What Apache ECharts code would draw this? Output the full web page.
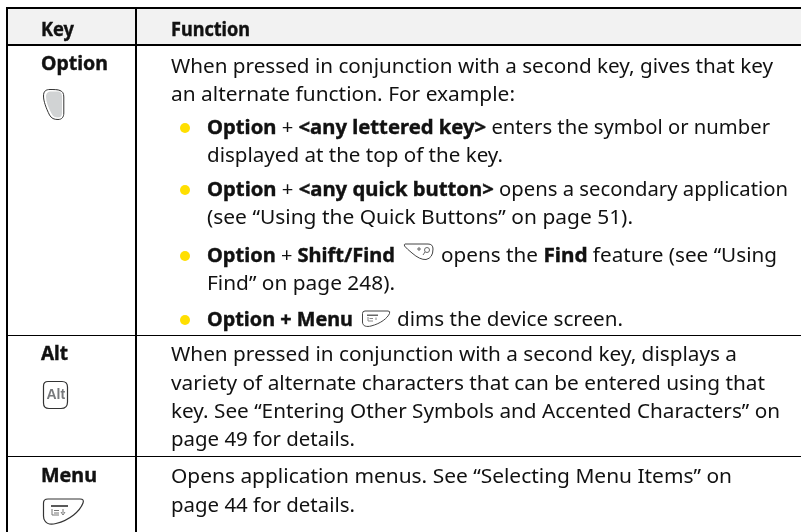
<!DOCTYPE html>
<html>
<head>
<meta charset="utf-8">
<style>html,body{margin:0;padding:0;background:#fff}#c{width:801px;height:532px}</style>
<script src="https://cdn.jsdelivr.net/npm/echarts@6/dist/echarts.min.js"></script>
</head>
<body>
<div id="c"></div>
<script>
// ---- table content (text only) ----
var headerLabels = ['Key', 'Function'];
var keyNames = ['Option', 'Alt', 'Menu'];
// each line: list of [text, isBold]
var optionIntro = [
  [['When pressed in conjunction with a second key, gives that key', 0]],
  [['an alternate function. For example:', 0]]
];
var optionBullets = [
  [['Option', 1], [' + ', 0], ['<any lettered key>', 1], [' enters the symbol or number', 0]],
  [['displayed at the top of the key.', 0]],
  [['Option', 1], [' + ', 0], ['<any quick button>', 1], [' opens a secondary application', 0]],
  [['(see “Using the Quick Buttons” on page 51).', 0]],
  [['Option', 1], [' + ', 0], ['Shift/Find', 1]],
  [['opens the ', 0], ['Find', 1], [' feature (see “Using', 0]],
  [['Find” on page 248).', 0]],
  [['Option + Menu', 1]],
  [['dims the device screen.', 0]]
];
var altLines = [
  [['When pressed in conjunction with a second key, displays a', 0]],
  [['variety of alternate characters that can be entered using that', 0]],
  [['key. See “Entering Other Symbols and Accented Characters” on', 0]],
  [['page 49 for details.', 0]]
];
var menuLines = [
  [['Opens application menus. See “Selecting Menu Items” on', 0]],
  [['page 44 for details.', 0]]
];

// ---- layout, kept apart from the content ----
var FONT = '"Noto Sans"';
var SIZE = 20;
var MID = 0.19;
var headerLayout = [[41, 74, 34], [171, 250, 34]];
var keyLayout = [[41, 108, 68], [41, 68, 358], [41, 97, 480]];
var introLayout = [[171, 773, 71], [171, 515, 99]];
var bulletLayout = [[207, 770, 132], [207, 503, 160], [207, 788, 194], [207, 633, 222],
  [207, 395, 260], [441, 777, 260], [207, 395, 288], [207, 353, 324], [397, 623, 324]];
var altLayout = [[171, 737, 359], [171, 765, 388], [171, 780, 416], [171, 355, 444]];
var menuLayout = [[171, 732, 481], [171, 355, 510]];
var bulletDots = [[185, 128], [185, 190], [185, 256], [185, 320]];

var ctx = document.createElement('canvas').getContext('2d');
function fontOf(bold, size) { return (bold ? 'bold ' : '') + size + 'px ' + FONT; }
function widthOf(t, bold, size) { ctx.font = fontOf(bold, size); return ctx.measureText(t).width; }

var els = [];
function rect(x, y, w, h, fill) {
  els.push({type: 'rect', shape: {x: x, y: y, width: w, height: h}, style: {fill: fill}, silent: true});
}
function addLine(segs, lay, size, color) {
  var total = 0;
  segs.forEach(function (s) { total += widthOf(s[0], s[1], size); });
  var sc = (lay[1] - lay[0]) / total, x = lay[0], c = color || '#111';
  segs.forEach(function (s) {
    var style = {text: s[0], font: fontOf(s[1], size), fill: c, align: 'left', verticalAlign: 'middle'};
    if (s[1]) { style.stroke = c; style.lineWidth = 0.4; }
    els.push({type: 'text', x: x, y: lay[2] - MID * size, scaleX: sc, silent: true, style: style});
    x += widthOf(s[0], s[1], size) * sc;
  });
}
var pathCount = 0;
function path(d, fill, stroke, lw) {
  var name = 'keyPath' + (pathCount++);
  echarts.graphic.registerShape(name, echarts.graphic.extendPath(d, {}));
  els.push({type: name, shape: {}, silent: true,
    style: {fill: fill || 'none', stroke: stroke || 'none', lineWidth: lw || 1}});
}

// header + rules
rect(7, 9, 794, 35, '#f2f2f2');
rect(6, 7, 795, 2, '#000');
rect(6, 44, 795, 2, '#000');
rect(6, 7, 2, 525, '#000');
rect(135, 7, 2, 525, '#000');
rect(6, 335, 795, 1, '#000');
rect(6, 456, 795, 1, '#000');

headerLabels.forEach(function (t, i) { addLine([[t, 1]], headerLayout[i], 19); });
keyNames.forEach(function (t, i) { addLine([[t, 1]], keyLayout[i], SIZE); });
optionIntro.forEach(function (l, i) { addLine(l, introLayout[i], SIZE); });
optionBullets.forEach(function (l, i) { addLine(l, bulletLayout[i], SIZE); });
altLines.forEach(function (l, i) { addLine(l, altLayout[i], SIZE); });
menuLines.forEach(function (l, i) { addLine(l, menuLayout[i], SIZE); });

bulletDots.forEach(function (p) {
  els.push({type: 'circle', shape: {cx: p[0], cy: p[1], r: 5}, style: {fill: '#ffdf00'}, silent: true});
});

// Option key
path('M43.5 96 C43.5 91 46 89.5 50 89.5 C54 89.5 58 89.5 60 90.5 C62.5 91.5 63.8 93 63.8 97 L63.8 113 C63.8 117 62 119.5 58 119.5 C54 119.5 51.5 118.5 49.5 115 C46 108 43.5 101 43.5 96 Z', '#fff', '#333', 1);
path('M46 97 C46 93 48 91.5 51 91.5 L58 91.5 C60.5 91.5 62 93 62 96.5 L62 113 C62 116 60.5 117.5 58 117.5 C55 117.5 53 116.5 51.5 113.5 C48.5 108 46 102 46 97 Z', '#d1d3d4');
// Alt key
path('M48 381.5 L62 381.5 Q67.5 381.5 67.5 387 L67.5 402 Q67.5 408.5 61 408.5 L49 408.5 Q43.5 408.5 43.5 403 L43.5 386 Q43.5 381.5 48 381.5 Z', '#fff', '#333', 1.2);
els.push({type: 'text', x: 55.8, y: 395, silent: true, style: {text: 'Alt', font: 'bold 14px "Liberation Sans"', fill: '#77797c', align: 'center', verticalAlign: 'middle'}});
// Menu key
path('M48 499 L80 499 Q84.5 499 83 503 C80 511 70 520 56 523.5 C52 524.5 47 524 45 521 Q43.5 519 43.5 516 L43.5 503 Q43.5 499 48 499 Z', '#fff', '#333', 1.2);
rect(51, 505, 17, 2, '#5a5a5a');
path('M52 509 L52 515 L59 515 M54 510.5 L59 510.5 M54 513 L59 513 M63 509 L63 513 M61 512 L63 515 L65 512', 'none', '#777', 1);
// Menu small icon in bullet
path('M365 311 L388 311 Q390.5 311 389.5 313.5 C387.5 318 381 323.5 371 326 C367 327 362.5 326.5 362.5 322 L362.5 313.5 Q362.5 311 365 311 Z', '#fff', '#444', 1);
rect(367, 314.5, 11, 1.5, '#666');
path('M368 317 L368 321 L373 321 M369.5 318.5 L373 318.5 M376 317.5 L376 320', 'none', '#888', 1);
// Shift/Find small icon in bullet
path('M405 244 L428 244 Q433 244 433 249 Q433 258 426 259.5 Q420 260 412 253 Q407 249 404.5 246 Q404 244 405 244 Z', '#fff', '#444', 1);
path('M417 249 L421 249 M419 247 L419 251', 'none', '#666', 1);
path('M427 247.5 a2.5 2.5 0 1 0 0.01 0 M425 252 L423 255', 'none', '#666', 1);

var chart = echarts.init(document.getElementById('c'), null, {renderer: 'canvas'});
chart.setOption({animation: false, backgroundColor: '#fff', graphic: {elements: els}});
</script>
</body>
</html>
